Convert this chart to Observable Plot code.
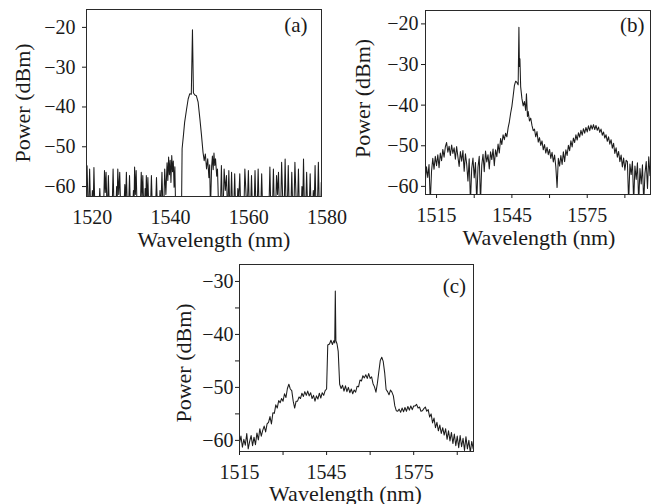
<!DOCTYPE html>
<html><head><meta charset="utf-8">
<script src="https://cdn.jsdelivr.net/npm/d3@7"></script>
<script src="https://cdn.jsdelivr.net/npm/@observablehq/plot@0.6"></script>
<style>
html,body{margin:0;padding:0;background:#fff;}
#root{position:relative;width:657px;height:504px;overflow:hidden;background:#fff;}
#root svg{position:absolute;left:0;top:0;}
#root svg, #root svg text, #root svg g {font-family:"Liberation Serif", "DejaVu Serif", serif !important;}
</style></head><body><div id="root"></div>
<script>
// ---------- Panel (a) ----------
const wavelengthA = [1518.5,1518.65,1518.9,1519.05,1519.3,1519.55,1519.8,1520.0,1520.2,1520.4,1520.65,1521.65,1521.9,1522.15,1522.85,1523.1,1523.3,1523.5,1523.75,1523.85,1524.1,1524.35,1525.05,1525.3,1525.55,1526.0,1526.2,1526.35,1526.5,1526.75,1527.0,1527.25,1528.05,1528.3,1528.5,1528.7,1528.95,1529.25,1529.5,1529.75,1530.3,1530.5,1530.65,1530.8,1531.0,1531.2,1531.45,1532.25,1532.5,1532.7,1532.9,1533.15,1533.3,1533.5,1533.65,1533.8,1534.0,1534.2,1534.45,1534.85,1535.1,1535.35,1536.15,1536.4,1536.65,1537.1,1537.3,1537.5,1537.8,1538.05,1538.25,1538.5,1538.8,1539.1,1539.3,1539.5,1539.7,1539.9,1540.1,1540.3,1540.5,1540.7,1540.9,1541.1,1541.3,1542.8,1542.95,1543.3,1543.6,1544.1,1544.5,1544.9,1545.3,1545.6,1545.85,1546.2,1546.6,1547.05,1547.5,1547.9,1548.3,1548.6,1548.9,1549.2,1549.5,1549.8,1550.0,1550.2,1550.5,1550.7,1550.9,1551.1,1551.3,1551.5,1551.8,1552.0,1552.3,1552.75,1553.0,1553.25,1553.45,1553.7,1554.0,1554.3,1554.55,1554.65,1554.9,1555.15,1555.35,1555.6,1555.85,1556.15,1556.4,1556.65,1557.0,1557.2,1557.45,1557.7,1557.95,1558.75,1559.0,1559.3,1559.6,1559.9,1560.15,1560.45,1560.7,1560.95,1561.35,1561.6,1561.85,1562.15,1562.4,1562.65,1563.05,1563.3,1563.55,1565.15,1565.4,1565.65,1566.05,1566.3,1566.55,1566.85,1567.1,1567.35,1567.6,1567.85,1568.15,1568.4,1568.7,1569.05,1569.3,1569.55,1569.85,1570.1,1570.35,1570.75,1571.0,1571.25,1571.55,1571.8,1572.1,1572.45,1572.7,1572.95,1573.4,1573.6,1573.8,1574.0,1574.25,1574.55,1574.8,1575.05,1575.45,1575.7,1575.95,1576.3,1576.5,1576.7,1576.96,1577.2,1577.55,1577.8,1578.05,1578.4,1578.55,1578.8];
const powerA = [-60.0,-54.8,-66,-66,-55.6,-66,-66,-61.0,-66,-55.2,-66,-66,-60.5,-66,-66,-56.0,-61.5,-56.4,-66,-66,-57.2,-66,-66,-55.6,-66,-66,-60.0,-64,-55.6,-62,-56.4,-66,-66,-59.5,-64,-56.4,-66,-66,-57.2,-66,-66,-61.0,-65,-55.1,-62.0,-56.0,-66,-66,-56.4,-63,-57.2,-66,-66,-60.5,-65,-57.2,-64,-57.7,-66,-66,-57.2,-66,-66,-57.7,-66,-66,-61.0,-66,-56.4,-66,-66,-55.6,-62.0,-54.0,-58.5,-52.6,-57.0,-53.4,-59.0,-52.2,-56.3,-53.6,-60.2,-55.0,-66,-66,-50.5,-47.0,-43.8,-40.5,-38.0,-36.7,-36.8,-20.6,-36.5,-37.0,-37.2,-38.8,-43.0,-47.0,-51.4,-53.5,-51.8,-55.6,-53.0,-57.8,-54.5,-66,-55.0,-52.3,-55.8,-51.6,-54.7,-53.0,-57.4,-55.6,-66,-66,-54.7,-66,-66,-55.6,-61.0,-57.2,-66,-66,-56.0,-66,-66,-56.4,-66,-66,-56.8,-66,-66,-60.5,-63,-56.8,-66,-66,-55.6,-62,-66,-56.0,-66,-66,-57.2,-66,-66,-56.0,-66,-66,-55.6,-66,-66,-56.8,-66,-66,-55.1,-66,-66,-55.6,-66,-66,-57.2,-62,-56.4,-66,-66,-53.9,-64,-66,-53.1,-66,-66,-54.7,-66,-66,-56.4,-66,-66,-53.9,-63,-66,-55.6,-66,-66,-60.0,-65,-53.1,-66,-66,-56.4,-66,-66,-56.8,-66,-66,-61.0,-66,-54.7,-66,-66,-53.9,-66,-66,-59.0,-66];
const xTicksA = [1520,1540,1560,1580];
const yTicksA = [-20,-30,-40,-50,-60];

// ---------- Panel (b) ----------
const wavelengthB = [1510.5,1511,1511.5,1512,1512.5,1513,1513.5,1514,1514.5,1515,1515.5,1516,1516.5,1517,1517.5,1518,1518.5,1519,1519.5,1520,1520.5,1521,1521.5,1522,1522.5,1523,1523.5,1524,1524.5,1525,1525.5,1526,1526.5,1527,1527.5,1528,1528.5,1529,1529.5,1530,1530.5,1531,1531.5,1532,1532.5,1533,1533.5,1534,1534.5,1535,1535.5,1536,1536.5,1537,1537.5,1538,1538.5,1539,1539.5,1540,1540.5,1541,1541.5,1542,1542.5,1543,1543.5,1544,1544.5,1545,1545.5,1546,1546.5,1547,1547.5,1547.8,1548.0,1548.2,1548.5,1549,1549.5,1550,1550.5,1550.8,1551.2,1551.5,1552,1552.5,1553,1553.5,1554,1554.5,1555,1555.5,1556,1556.5,1557,1557.5,1558,1558.5,1559,1559.5,1560,1560.5,1561,1561.5,1562,1562.5,1563,1563.5,1564,1564.5,1565,1565.5,1566,1566.5,1567,1567.5,1568,1568.5,1569,1569.5,1570,1570.5,1571,1571.5,1572,1572.5,1573,1573.5,1574,1574.5,1575,1575.5,1576,1576.5,1577,1577.5,1578,1578.5,1579,1579.5,1580,1580.5,1581,1581.5,1582,1582.5,1583,1583.5,1584,1584.5,1585,1585.5,1586,1586.5,1587,1587.5,1588,1588.5,1589,1589.5,1590,1590.5,1591,1591.5,1592,1592.5,1593,1593.5,1594,1594.5,1595,1595.5,1596,1596.5,1597,1597.5,1598,1598.5,1599,1599.5,1600,1600.2];
const powerB = [-59.0,-55.2,-57.8,-54.6,-64.0,-56.3,-53.1,-55.8,-52.6,-54.9,
-52.2,-55.4,-51.8,-53.7,-50.9,-52.8,-50.3,-49.2,-51.6,-50.1,
-52.4,-49.8,-51.9,-50.5,-53.3,-50.2,-52.7,-55.1,-51.4,-53.8,
-51.2,-56.3,-52.0,-54.5,-58.7,-53.2,-64.0,-55.6,-53.0,-57.9,
-54.1,-64.0,-55.3,-52.6,-64.0,-54.8,-52.1,-56.4,-51.3,-54.0,
-52.2,-55.7,-51.5,-53.4,-50.8,-54.9,-51.0,-52.7,-49.6,-51.8,
-48.2,-49.7,-47.3,-48.5,-46.9,-47.8,-45.6,-44.1,-42.0,-40.3,
-37.8,-35.2,-34.1,-34.4,-35.0,-20.8,-30.5,-28.6,-35.5,-38.4,
-40.2,-39.1,-41.3,-37.2,-42.8,-41.6,-43.9,-43.2,
-45.0,-46.3,-45.9,-47.8,-46.5,-49.1,-48.0,-49.9,-48.8,-51.0,-49.7,-51.8,-50.4,-52.2,-50.9,-53.1,-51.6,-54.0,-52.3,-55.2,
-60.3,-53.1,-55.0,-52.4,-54.6,-51.5,-53.9,-51.0,-52.4,-49.9,-51.2,-48.8,-50.3,-48.1,-49.2,-47.3,-48.6,-46.8,-47.9,-46.2,
-47.4,-45.8,-46.9,-45.5,-46.6,-45.1,-46.3,-44.9,-45.9,-44.8,-46.0,-45.0,-46.2,-45.4,-46.7,-45.9,-47.4,-46.6,-48.1,-47.3,
-48.9,-47.8,-49.6,-48.5,-50.6,-49.4,-51.9,-50.5,-52.8,-51.4,-53.9,-52.3,-55.2,-53.0,-56.0,-53.6,
-53.9,-64.0,-54.5,-57.1,-53.8,-64.0,-55.0,-58.3,-54.2,-64.0,-55.6,-59.4,-54.7,-64.0,-56.8,-53.9,-60.5,-52.7,-57.4,-55.0];
const xTicksB = [1515,1530,1545,1560,1575,1590];
const xLabelsB = [1515,1545,1575];
const yTicksB = [-20,-30,-40,-50,-60];

// ---------- Panel (c) ----------
const wavelengthC = [1515,1515.5,1516,1516.5,1517,1517.5,1518,1518.5,1519,1519.5,1520,1520.5,1521,1521.5,1522,1522.5,1523,1523.5,1524,1524.5,1525,1525.5,1526,1526.5,1527,1527.5,1528,1528.5,1529,1529.5,1530,1530.5,1531,1531.5,1532,1532.5,1533,1533.5,1534,1534.5,1535,1535.5,1536,1536.5,1537,1537.5,1538,1538.5,1539,1539.5,1540,1540.5,1541,1541.5,1542,1542.5,1543,1543.5,1544,1544.5,1545,1545.4,1546,1546.5,1547,1547.5,1547.8,1548.0,1548.2,1548.6,1549,1549.5,1550,1550.5,1551,1551.5,1552,1552.5,1553,1553.5,1554,1554.5,1555,1555.5,1556,1556.5,1557,1557.5,1558,1558.5,1559,1559.5,1560,1560.5,1561,1561.5,1562,1562.5,1563,1563.5,1564,1564.5,1565,1565.5,1566,1566.5,1567,1567.5,1568,1568.5,1569,1569.5,1570,1570.5,1571,1571.5,1572,1572.5,1573,1573.5,1574,1574.5,1575,1575.5,1576,1576.5,1577,1577.5,1578,1578.5,1579,1579.5,1580,1580.5,1581,1581.5,1582,1582.5,1583,1583.5,1584,1584.5,1585,1585.5,1586,1586.5,1587,1587.5,1588,1588.5,1589,1589.5,1590,1590.5,1591,1591.5,1592,1592.5,1593,1593.5,1594,1594.5,1595,1595.5];
const powerC = [-60.5,-59.2,-61.3,-59.8,-60.9,-58.7,-61.6,-60.2,-59.1,-61.0,
-59.4,-60.8,-58.6,-59.9,-57.8,-59.2,-58.1,-57.3,-58.4,-56.9,
-56.6,-55.5,-56.9,-54.8,-54.9,-53.3,-53.9,-52.5,-52.9,-52.1,
-52.6,-51.2,-51.9,-50.2,-49.4,-50.3,-50.6,-52.6,-53.9,-52.6,
-52.6,-51.8,-52.1,-51.1,-51.7,-50.8,-51.5,-50.7,-51.6,-51.0,
-52.1,-51.5,-52.6,-51.6,-52.2,-51.1,-52.0,-51.0,-51.5,-50.6,
-50.3,
-42.0,-41.8,-41.1,-41.9,-41.2,-41.6,-31.8,-41.2,-41.8,-43.2,-49.4,
-50.2,-49.6,-50.7,-49.7,-50.8,-50.0,-51.0,-50.3,-51.2,-50.5,
-50.9,-49.8,-49.9,-48.6,-48.8,-47.8,-48.2,-47.6,-48.3,-47.4,
-48.3,-48.0,-49.3,-49.9,-50.9,-49.2,-47.0,-44.9,-44.3,-45.1,
-47.2,-50.4,-50.8,-51.4,-50.5,-50.9,-51.6,-53.5,-54.4,-54.5,
-54.1,-54.7,-53.9,-54.6,-53.8,-54.5,-53.6,-54.3,-53.5,-54.2,
-53.5,-53.5,-53.2,-53.9,-53.7,-54.5,-54.4,-54.0,-53.7,-54.5,
-54.2,-55.6,-55.0,-56.7,-55.8,-57.6,-56.6,-58.2,-57.1,-58.7,
-57.6,-59.0,-57.8,-59.8,-58.2,-60.1,-58.5,-60.6,-58.8,-61.0,
-59.2,-61.4,-59.1,-61.2,-59.6,-61.9,-59.3,-61.6,-60.0,-62.3,-60.2,-61.6];
const xTicksC = [1515,1530,1545,1560,1575,1590];
const xLabelsC = [1515,1545,1575];
const yTicksC = [-30,-40,-50,-60];
const yMinorC = [-35,-45,-55];

const xTitle = "Wavelength (nm)";
const yTitle = "Power (dBm)";

const W = 657, H = 504;
const FONT = "Liberation Serif";

function panel(o) {
  const [L, T, R, B] = o.frame;
  const data = o.wl.map((w, i) => ({w, p: o.pw[i]}));
  const marks = [
    Plot.line(data, {x: "w", y: "p", stroke: "#1c1c1c", strokeWidth: 1.05, clip: true}),
    Plot.frame({stroke: "#2a2a2a", strokeWidth: 1}),
    Plot.axisX({ticks: o.xTicks, tickSize: o.xTickSize, tickPadding: o.xTickPadding, fontFamily: FONT, fontSize: 20,
      tickFormat: d => o.xLabels.includes(d) ? String(d) : "", label: null}),
    Plot.axisY({ticks: o.yTicks, tickSize: 4, tickPadding: o.yTickPadding, fontFamily: FONT, fontSize: 20,
      tickFormat: d3.format("d"), label: null})
  ];
  if (o.yMinor) marks.push(Plot.axisY({ticks: o.yMinor, tickSize: 4, tickFormat: () => "", label: null}));
  marks.push(
    Plot.text([o.letter], {text: d => d, frameAnchor: "top-right", textAnchor: "end", lineAnchor: "bottom", dx: o.letterDx, dy: o.letterDy, fontSize: 21, fontFamily: FONT}),
    Plot.text([xTitle], {text: d => d, frameAnchor: "bottom", textAnchor: "middle", lineAnchor: "bottom", dx: o.xTitleDx, dy: o.xTitleDy, fontSize: 22, fontFamily: FONT}),
    Plot.text([yTitle], {text: d => d, frameAnchor: "left", textAnchor: "middle", rotate: -90, lineAnchor: "bottom", dx: o.yTitleDx, dy: o.yTitleDy, fontSize: 22, fontFamily: FONT})
  );
  return Plot.plot({
    width: W, height: H,
    marginLeft: L, marginTop: T, marginRight: W - R, marginBottom: H - B,
    x: {domain: o.xDomain},
    y: {domain: o.yDomain},
    style: {fontFamily: FONT, fontSize: "20px", background: "transparent", color: "#1a1a1a", overflow: "visible"},
    marks
  });
}

const root = document.getElementById("root");
root.append(panel({
  wl: wavelengthA, pw: powerA, frame: [86, 9, 321, 196],
  xDomain: [1518.5, 1578.6], yDomain: [-62.5, -15.5],
  xTicks: xTicksA, xLabels: xTicksA, xTickSize: 0, xTickPadding: 13,
  yTicks: yTicksA, yTickPadding: 7,
  letter: "(a)", letterDx: -14, letterDy: 22.5,
  xTitleDx: 10, xTitleDy: 50, yTitleDx: -57, yTitleDy: 0
}));
root.append(panel({
  wl: wavelengthB, pw: powerB, frame: [425, 10, 650, 194],
  xDomain: [1510.6, 1600.2], yDomain: [-62, -16.7],
  xTicks: xTicksB, xLabels: xLabelsB, xTickSize: 4, xTickPadding: 9,
  yTicks: yTicksB, yTickPadding: 3,
  letter: "(b)", letterDx: -6, letterDy: 21.5,
  xTitleDx: 1, xTitleDy: 50, yTitleDx: -56, yTitleDy: -4
}));
root.append(panel({
  wl: wavelengthC, pw: powerC, frame: [239, 264, 473, 451],
  xDomain: [1515, 1595.6], yDomain: [-62.1, -26.8],
  xTicks: xTicksC, xLabels: xLabelsC, xTickSize: 4, xTickPadding: 9,
  yTicks: yTicksC, yMinor: yMinorC, yTickPadding: 2,
  letter: "(c)", letterDx: -7.5, letterDy: 28,
  xTitleDx: -11, xTitleDy: 49, yTitleDx: -49, yTitleDy: 5
}));
</script>
</body></html>
